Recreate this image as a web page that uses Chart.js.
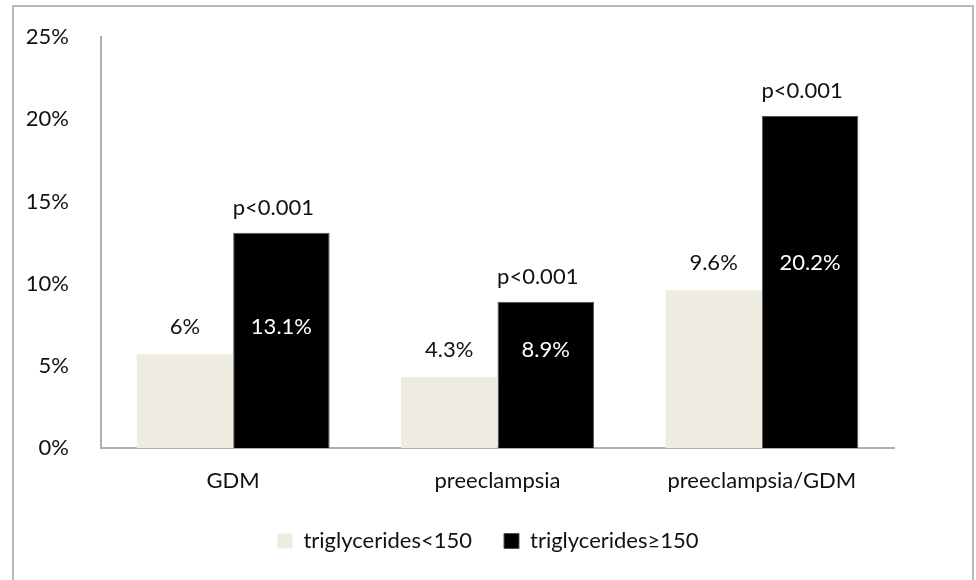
<!DOCTYPE html>
<html>
<head>
<meta charset="utf-8">
<script src="https://cdn.jsdelivr.net/npm/chart.js@4.4.0/dist/chart.umd.min.js"></script>
<style>
  html, body { margin: 0; padding: 0; background: #fff; overflow: hidden; }
  #wrap { position: relative; width: 976px; height: 580px; }
  #frame { position: absolute; left: 12px; top: 5px; width: 958px; height: 600px; border: 2px solid #b8b8b8; pointer-events: none; }
  canvas { position: absolute; left: 0; top: 0; }
</style>
</head>
<body>
<div id="wrap">
  <canvas id="myChart" width="976" height="580"></canvas>
  <div id="frame"></div>
</div>
<script>
const categories = ['GDM', 'preeclampsia', 'preeclampsia/GDM'];
const lowTG = [5.7, 4.3, 9.6];
const highTG = [13.1, 8.9, 20.2];
const lowLabels = ['6%', '4.3%', '9.6%'];
const highLabels = ['13.1%', '8.9%', '20.2%'];
const pLabels = ['p<0.001', 'p<0.001', 'p<0.001'];
const yTicks = [0, 5, 10, 15, 20, 25];

const FONT = 'Lato, "Open Sans", sans-serif';
const FSIZE = 22;

// value labels: light label above its bar, white label inside the black bar at the same height,
// p value above the black bar
const barLabels = {
    id: 'barLabels',
    afterDatasetsDraw(chart) {
        const ctx = chart.ctx;
        const y = chart.scales.y;
        const low = chart.getDatasetMeta(0).data;
        const high = chart.getDatasetMeta(1).data;
        ctx.save();
        ctx.font = FSIZE + 'px ' + FONT;
        ctx.textAlign = 'center';
        ctx.textBaseline = 'middle';
        categories.forEach((c, i) => {
            const ly = y.getPixelForValue(lowTG[i]) - 27;
            ctx.fillStyle = '#111';
            ctx.fillText(lowLabels[i], low[i].x, ly);
            ctx.fillStyle = '#fff';
            ctx.fillText(highLabels[i], high[i].x, ly);
            ctx.fillStyle = '#111';
            ctx.fillText(pLabels[i], high[i].x - 8, y.getPixelForValue(highTG[i]) - 25);
        });
        ctx.restore();
    }
};

const ctx = document.getElementById('myChart').getContext('2d');

new Chart(ctx, {
    type: 'bar',
    data: {
        labels: categories,
        datasets: [{
            label: 'triglycerides<150',
            data: lowTG,
            backgroundColor: '#eeece1',
        }, {
            label: 'triglycerides≥150',
            data: highTG,
            backgroundColor: '#000000',
            borderColor: '#555',
            borderWidth: 1,
        }]
    },
    options: {
        responsive: false,
        animation: false,
        layout: { padding: { left: 0, right: 0, top: 35, bottom: 18 } },
        datasets: { bar: { categoryPercentage: 0.73, barPercentage: 1.0 } },
        plugins: {
            legend: {
                position: 'bottom',
                labels: {
                    boxWidth: 15,
                    boxHeight: 15,
                    padding: 32,
                    color: '#111',
                    font: { family: FONT, size: FSIZE }
                }
            },
            tooltip: { enabled: false }
        },
        scales: {
            x: {
                grid: { display: false },
                border: { display: true, color: '#b0b0b0', width: 2 },
                ticks: { color: '#111', font: { family: FONT, size: FSIZE }, padding: 12 },
                afterFit(s) { s.height = 50; }
            },
            y: {
                min: 0,
                max: 25,
                afterBuildTicks(s) { s.ticks = yTicks.map(v => ({ value: v })); },
                grid: { display: false },
                border: { display: true, color: '#b0b0b0', width: 2 },
                ticks: {
                    color: '#111',
                    font: { family: FONT, size: FSIZE },
                    padding: 24,
                    callback: v => v + '%'
                },
                afterFit(s) { s.width = 101; }
            },
            // empty right-hand space so the legend stays centred on the page
            yRight: {
                position: 'right',
                min: 0,
                max: 25,
                grid: { display: false },
                border: { display: false },
                ticks: { display: false },
                afterFit(s) { s.width = 82; }
            }
        }
    },
    plugins: [barLabels]
});
</script>
</body>
</html>
